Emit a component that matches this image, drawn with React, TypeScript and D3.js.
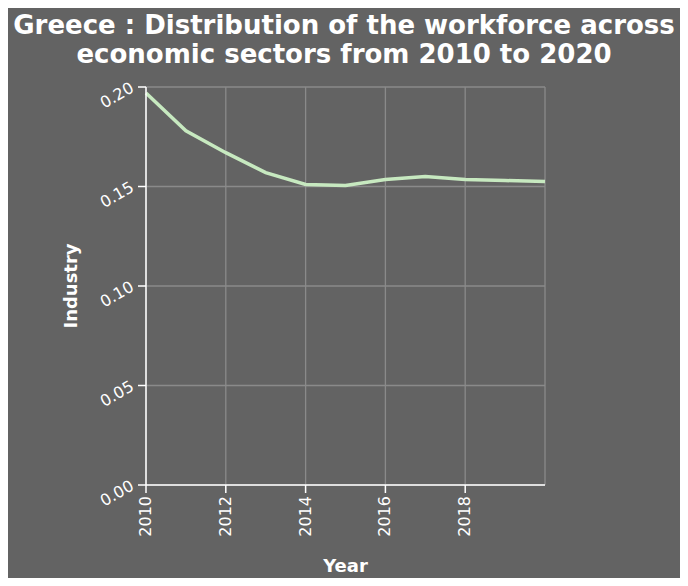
import * as d3 from "d3";

const years = [2010, 2011, 2012, 2013, 2014, 2015, 2016, 2017, 2018, 2019, 2020];
const industry = [0.197, 0.178, 0.167, 0.157, 0.151, 0.1505, 0.1535, 0.155, 0.1535, 0.153, 0.1525];
const xTicks = [2010, 2012, 2014, 2016, 2018];
const yTicks = [0, 0.05, 0.1, 0.15, 0.2];

export default function App() {
  const W = 688, H = 586;
  const m = { left: 146, right: 545, top: 87, bottom: 485 };
  const x = d3.scaleLinear().domain([2010, 2020]).range([m.left, m.right]);
  const y = d3.scaleLinear().domain([0, 0.2]).range([m.bottom, m.top]);
  const line = d3.line<number>().x((_, i) => x(years[i])).y(d => y(d));
  const font = "'DejaVu Sans', sans-serif";
  return (
    <svg width={W} height={H} style={{ display: "block", margin: -8 }}>
      <rect width={W} height={H} fill="#636363" />
      <text x={W / 2} y={34} textAnchor="middle" fill="#fff" fontFamily={font} fontWeight="bold" fontSize={26}>
        Greece : Distribution of the workforce across
      </text>
      <text x={W / 2} y={63} textAnchor="middle" fill="#fff" fontFamily={font} fontWeight="bold" fontSize={26}>
        economic sectors from 2010 to 2020
      </text>
      {[...xTicks, 2020].map(t => (
        <line key={"gx" + t} x1={x(t)} x2={x(t)} y1={m.top} y2={m.bottom} stroke="#8a8a8a" strokeWidth={1.3} />
      ))}
      {yTicks.map(t => (
        <line key={"gy" + t} x1={m.left} x2={m.right} y1={y(t)} y2={y(t)} stroke="#8a8a8a" strokeWidth={1.3} />
      ))}
      <path d={line(industry) ?? ""} fill="none" stroke="#c7e9c0" strokeWidth={3.5} />
      <line x1={m.left} x2={m.left} y1={m.top} y2={m.bottom} stroke="#fff" strokeWidth={1.5} />
      <line x1={m.left} x2={m.right} y1={m.bottom} y2={m.bottom} stroke="#fff" strokeWidth={1.5} />
      {yTicks.map(t => (
        <g key={"ty" + t}>
          <line x1={m.left - 8} x2={m.left} y1={y(t)} y2={y(t)} stroke="#fff" strokeWidth={1.5} />
          <text transform={`translate(${m.left - 11},${y(t) + 4}) rotate(-30)`} textAnchor="end" fill="#fff" fontFamily={font} fontSize={16}>
            {t.toFixed(2)}
          </text>
        </g>
      ))}
      {xTicks.map(t => (
        <g key={"tx" + t}>
          <line x1={x(t)} x2={x(t)} y1={m.bottom} y2={m.bottom + 8} stroke="#fff" strokeWidth={1.5} />
          <text transform={`translate(${x(t) + 5},${m.bottom + 11}) rotate(-90)`} textAnchor="end" fill="#fff" fontFamily={font} fontSize={16}>
            {t}
          </text>
        </g>
      ))}
      <text x={(m.left + m.right) / 2} y={572} textAnchor="middle" fill="#fff" fontFamily={font} fontWeight="bold" fontSize={18}>Year</text>
      <text transform={`translate(77,${(m.top + m.bottom) / 2}) rotate(-90)`} textAnchor="middle" fill="#fff" fontFamily={font} fontWeight="bold" fontSize={18}>Industry</text>
    </svg>
  );
}
